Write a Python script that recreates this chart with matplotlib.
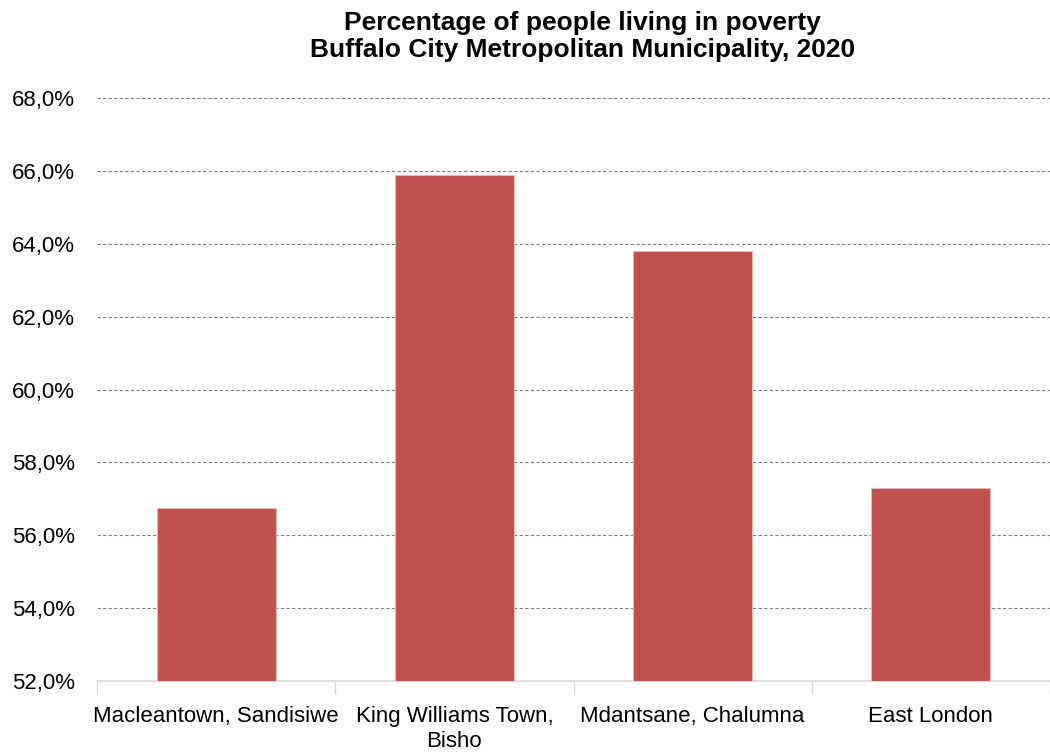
import matplotlib
matplotlib.use('Agg')
import matplotlib.pyplot as plt
from matplotlib.ticker import FuncFormatter, FixedLocator

plt.rcParams['font.family'] = ['Liberation Sans', 'DejaVu Sans']

regions = ['Macleantown, Sandisiwe', 'King Williams Town,\nBisho',
           'Mdantsane, Chalumna', 'East London']
poverty = [56.75, 65.9, 63.8, 57.3]
yticks = [52, 54, 56, 58, 60, 62, 64, 66, 68]

fig = plt.figure(figsize=(10.5, 7.55), dpi=100)
ax = fig.add_axes([0.0924, 0.098, 0.9076, 0.772])

x = range(len(regions))
ax.bar(x, poverty, width=0.5, color='#c0504d', edgecolor='#e6b8b7', linewidth=0.8, zorder=3)

ax.set_xlim(-0.5, len(regions) - 0.5)
ax.set_ylim(52, 68)
ax.set_yticks(yticks)
ax.yaxis.set_major_formatter(FuncFormatter(lambda v, p: f'{v:.1f}%'.replace('.', ',')))
ax.grid(axis='y', linestyle=(0, (3, 2)), color='#808080', linewidth=0.8, zorder=0)

ax.set_xticks(list(x))
ax.set_xticklabels(regions, fontsize=16, linespacing=1.25)
ax.tick_params(axis='x', which='major', length=0, pad=18)
ax.xaxis.set_minor_locator(FixedLocator([i - 0.5 for i in range(len(regions) + 1)]))
ax.tick_params(axis='x', which='minor', length=9, color='#d9d9d9', width=1)
ax.tick_params(axis='y', length=0, labelsize=16, pad=16)

for s in ['top', 'right', 'left']:
    ax.spines[s].set_visible(False)
ax.spines['bottom'].set_color('#d9d9d9')
ax.spines['bottom'].set_linewidth(1.2)

fig.text(0.555, 0.985, 'Percentage of people living in poverty\nBuffalo City Metropolitan Municipality, 2020',
         ha='center', va='top', fontsize=19, fontweight='bold', linespacing=1.15)

fig.savefig('out.png', dpi=100)
